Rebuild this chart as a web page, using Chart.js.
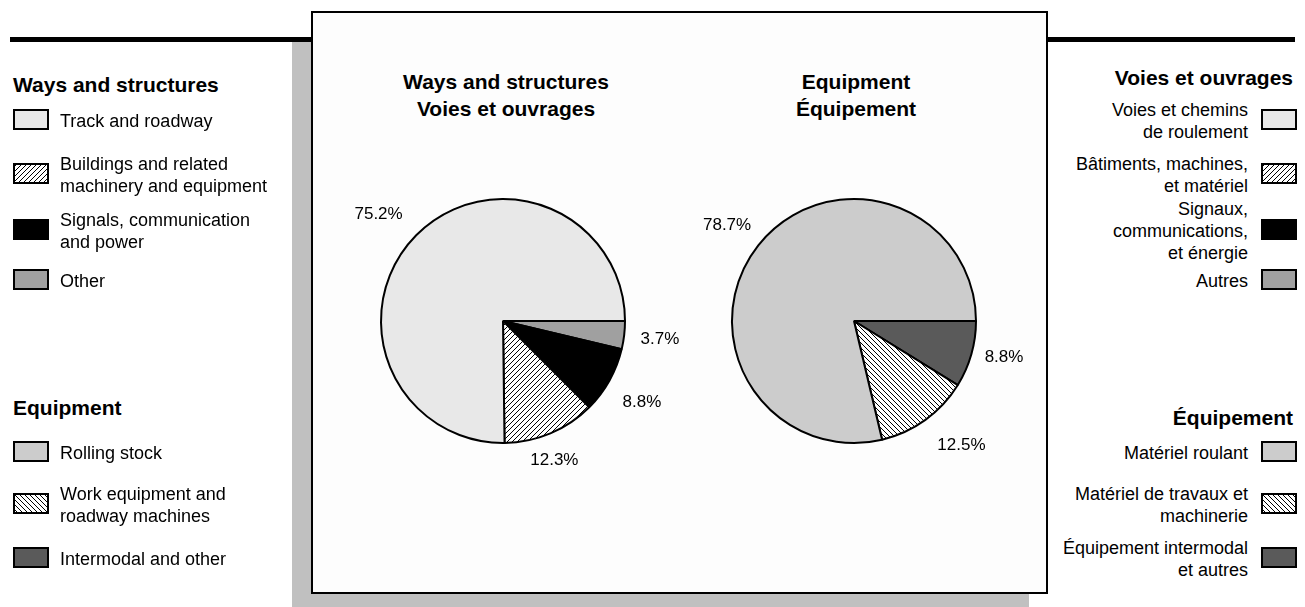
<!DOCTYPE html>
<html>
<head>
<meta charset="utf-8">
<title>Ways and structures / Equipment</title>
<script src="https://cdn.jsdelivr.net/npm/chart.js@4.4.0/dist/chart.umd.min.js"></script>
<style>
  html, body { margin: 0; padding: 0; background: #fff; }
  body { width: 1305px; height: 607px; position: relative; overflow: hidden;
         font-family: "Liberation Sans", Arial, sans-serif; color: #000; }
  .rule { position: absolute; height: 5px; background: #000; top: 37px; }
  #shadow { position: absolute; left: 292px; top: 42px; width: 737px; height: 565px; background: #c0c0c0; }
  #frame { position: absolute; left: 311px; top: 11px; width: 733px; height: 579px;
           border: 2px solid #000; background: #fdfdfd; }
  .pie { position: absolute; }
  .ptitle { position: absolute; width: 300px; text-align: center; font-weight: bold;
            font-size: 21px; line-height: 27px; }
  .lgtitle { position: absolute; font-weight: bold; font-size: 21px; line-height: 27px; white-space: nowrap; }
  .item { position: absolute; display: flex; align-items: center; font-size: 18px; line-height: 22px; }
  .item canvas { flex: none; }
  .item.left { left: 13px; }
  .item.left .txt { margin-left: 11px; padding-top: 3px; }
  .item.right { right: 8px; flex-direction: row-reverse; text-align: right; }
  .item.right .txt { margin-right: 13px; padding-top: 3px; }
</style>
</head>
<body>
<div id="shadow"></div>
<div class="rule" style="left:10px; width:301px;"></div>
<div class="rule" style="left:1046px; width:249px;"></div>
<div id="frame"></div>

<div class="ptitle" style="left:356px; top:68px;">Ways and structures<br>Voies et ouvrages</div>
<div class="ptitle" style="left:706px; top:68px;">Equipment<br>Équipement</div>

<canvas id="waysPie" class="pie" width="400" height="400" style="left:303px; top:121px;"></canvas>
<canvas id="equipPie" class="pie" width="400" height="400" style="left:654px; top:121px;"></canvas>

<div id="legends"></div>

<script>
// ---------- Data ----------
const waysLabels = [['Track and roadway'], ['Buildings and related', 'machinery and equipment'], ['Signals, communication', 'and power'], ['Other']];
const waysLabelsFr = [['Voies et chemins', 'de roulement'], ['Bâtiments, machines,', 'et matériel'], ['Signaux,', 'communications,', 'et énergie'], ['Autres']];
const waysShares = [75.2, 12.3, 8.8, 3.7];

const equipLabels = [['Rolling stock'], ['Work equipment and', 'roadway machines'], ['Intermodal and other']];
const equipLabelsFr = [['Matériel roulant'], ['Matériel de travaux et', 'machinerie'], ['Équipement intermodal', 'et autres']];
const equipShares = [78.7, 12.5, 8.8];

// small hand tweaks to the percent label spots (px), legend order
const waysNudge = [[-12, 4], [-10, -6], [1, 4], [0, 0]];
const equipNudge = [[-3, 2], [15, -4], [-2, -7]];

// ---------- Fills ----------
function hatch(dir) {
  const s = 5;
  const c = document.createElement('canvas');
  c.width = c.height = s;
  const g = c.getContext('2d');
  g.fillStyle = '#fff';
  g.fillRect(0, 0, s, s);
  g.strokeStyle = '#000';
  g.lineWidth = 1;
  g.beginPath();
  if (dir === '/') {
    g.moveTo(-1, s + 1); g.lineTo(s + 1, -1);
    g.moveTo(-1, 1); g.lineTo(1, -1);
    g.moveTo(s - 1, s + 1); g.lineTo(s + 1, s - 1);
  } else {
    g.moveTo(-1, -1); g.lineTo(s + 1, s + 1);
    g.moveTo(-1, s - 1); g.lineTo(1, s + 1);
    g.moveTo(s - 1, -1); g.lineTo(s + 1, 1);
  }
  g.stroke();
  return g.createPattern(c, 'repeat');
}

const waysFills = ['#e8e8e8', hatch('/'), '#000000', '#a0a0a0'];
const equipFills = ['#cccccc', hatch('\\'), '#5a5a5a'];

// ---------- Percent labels outside the slices ----------
const pctLabels = {
  id: 'pctLabels',
  afterDatasetsDraw(chart, args, opts) {
    const ctx = chart.ctx;
    const meta = chart.getDatasetMeta(0);
    const values = chart.data.datasets[0].data;
    const nudge = opts.nudge || [];
    ctx.save();
    ctx.font = '17px "Liberation Sans", Arial, sans-serif';
    ctx.fillStyle = '#000';
    ctx.textAlign = 'center';
    ctx.textBaseline = 'middle';
    meta.data.forEach((arc, i) => {
      const p = arc.getProps(['x', 'y', 'startAngle', 'endAngle', 'outerRadius'], true);
      const mid = (p.startAngle + p.endAngle) / 2;
      const r = p.outerRadius + 36;
      const [dx, dy] = nudge[i] || [0, 0];
      ctx.fillText(values[i].toFixed(1) + '%', p.x + Math.cos(mid) * r + dx, p.y + Math.sin(mid) * r + dy);
    });
    ctx.restore();
  }
};

// pie slices run clockwise from 3 o'clock, in reverse legend order
function makePie(id, labels, shares, fills, nudge) {
  const ctx = document.getElementById(id).getContext('2d');
  return new Chart(ctx, {
    type: 'pie',
    data: {
      labels: labels.map(l => l.join(' ')).reverse(),
      datasets: [{
        data: shares.slice().reverse(),
        backgroundColor: fills.slice().reverse(),
        borderColor: '#000',
        borderWidth: 2
      }]
    },
    options: {
      responsive: false,
      animation: false,
      rotation: 90,
      layout: { padding: 77 },
      plugins: {
        legend: { display: false },
        tooltip: { enabled: false },
        pctLabels: { nudge: nudge.slice().reverse() }
      }
    },
    plugins: [pctLabels]
  });
}

makePie('waysPie', waysLabels, waysShares, waysFills, waysNudge);
makePie('equipPie', equipLabels, equipShares, equipFills, equipNudge);

// ---------- Legends (English left, French right) ----------
const host = document.getElementById('legends');

function swatch(fill) {
  const c = document.createElement('canvas');
  c.width = 36; c.height = 21;
  const g = c.getContext('2d');
  g.fillStyle = fill;
  g.fillRect(0, 0, 36, 21);
  g.strokeStyle = '#000';
  g.lineWidth = 2;
  g.strokeRect(1, 1, 34, 19);
  return c;
}

function legend(side, title, titleBase, labels, fills, rowCenters) {
  const t = document.createElement('div');
  t.className = 'lgtitle';
  t.textContent = title;
  t.style.top = (titleBase - 21) + 'px';
  if (side === 'left') t.style.left = '13px'; else t.style.right = '12px';
  host.appendChild(t);

  labels.forEach((lines, i) => {
    const item = document.createElement('div');
    item.className = 'item ' + side;
    const h = Math.max(lines.length * 22 + 3, 21);
    item.style.top = (rowCenters[i] - h / 2) + 'px';
    item.style.height = h + 'px';
    item.appendChild(swatch(fills[i]));
    const txt = document.createElement('div');
    txt.className = 'txt';
    txt.innerHTML = lines.join('<br>');
    item.appendChild(txt);
    host.appendChild(item);
  });
}

const waysRows = [119, 173, 229, 279];
const equipRows = [451, 503, 557];

legend('left', 'Ways and structures', 92, waysLabels, waysFills, waysRows);
legend('left', 'Equipment', 415, equipLabels, equipFills, equipRows);
legend('right', 'Voies et ouvrages', 85, waysLabelsFr, waysFills, waysRows);
legend('right', 'Équipement', 425, equipLabelsFr, equipFills, equipRows);
</script>
</body>
</html>
